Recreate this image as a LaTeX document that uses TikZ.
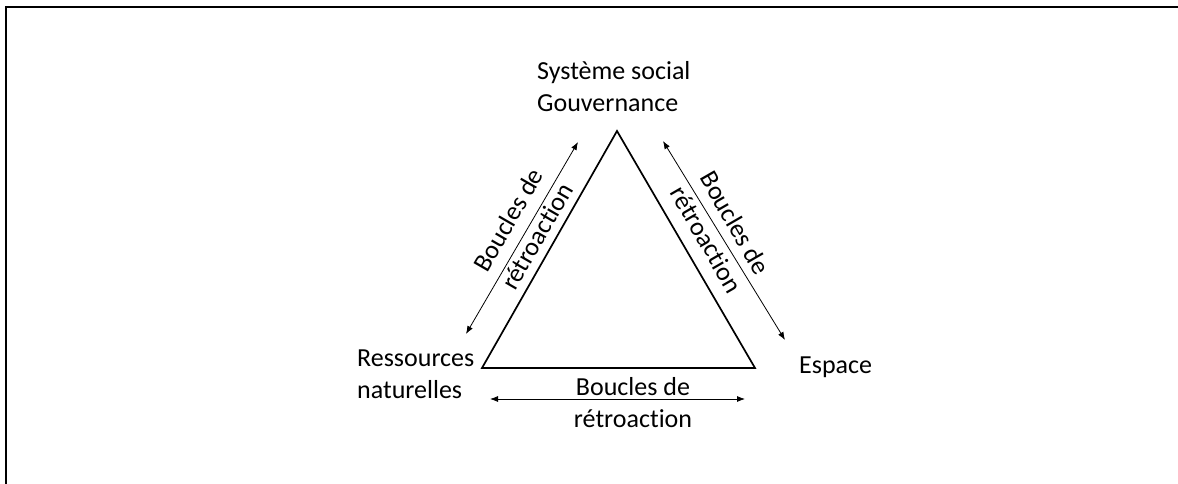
\documentclass[tikz,border=0pt]{standalone}
\usepackage{fontspec}
\setmainfont{Carlito}[Ligatures=NoCommon]
\usetikzlibrary{arrows.meta}
\begin{document}
\begin{tikzpicture}[x=1pt,y=-1pt,
  lbl/.style={font=\fontsize{26}{32}\selectfont, inner sep=0pt},
  rlbl/.style={font=\fontsize{26}{33}\selectfont, inner sep=0pt, align=center},
  tri/.style={line width=1.7pt, line join=miter},
  fb/.style={line width=0.8pt, {Latex[length=8pt,width=6pt]}-{Latex[length=8pt,width=6pt]}},
  frameline/.style={line width=2pt}]
\useasboundingbox (0,0) rectangle (1178,484);
\draw[frameline] (6,484) -- (6,7) -- (1178,7);
\coordinate (A) at (617,131);
\coordinate (B) at (482,368);
\coordinate (C) at (755,368);
\draw[tri] (A) -- (B) -- (C) -- cycle;
\node[lbl, align=left, anchor=base west] (soc) at (537,112) {Système social\\Gouvernance};
\node[lbl, align=left, anchor=base west] (res) at (357,398) {Ressources\\naturelles};
\node[lbl, anchor=base west] (esp) at (799,373) {Espace};
\coordinate (l1) at (578,142);
\coordinate (l2) at (466,334);
\coordinate (r1) at (663,141);
\coordinate (r2) at (785,340);
\coordinate (b1) at (490,399);
\coordinate (b2) at (745,399);
\draw[fb] (l2) -- (l1);
\draw[fb] (r1) -- (r2);
\draw[fb] (b1) -- (b2);
\node[rlbl, rotate=60] (lfb) at (522.5,228) {Boucles de\\rétroaction};
\node[rlbl, rotate=-60] (rfb) at (721,231) {Boucles de\\rétroaction};
\node[lbl, align=center, anchor=base] (bfb) at (633,427) {Boucles de\\rétroaction};
\end{tikzpicture}
\end{document}
